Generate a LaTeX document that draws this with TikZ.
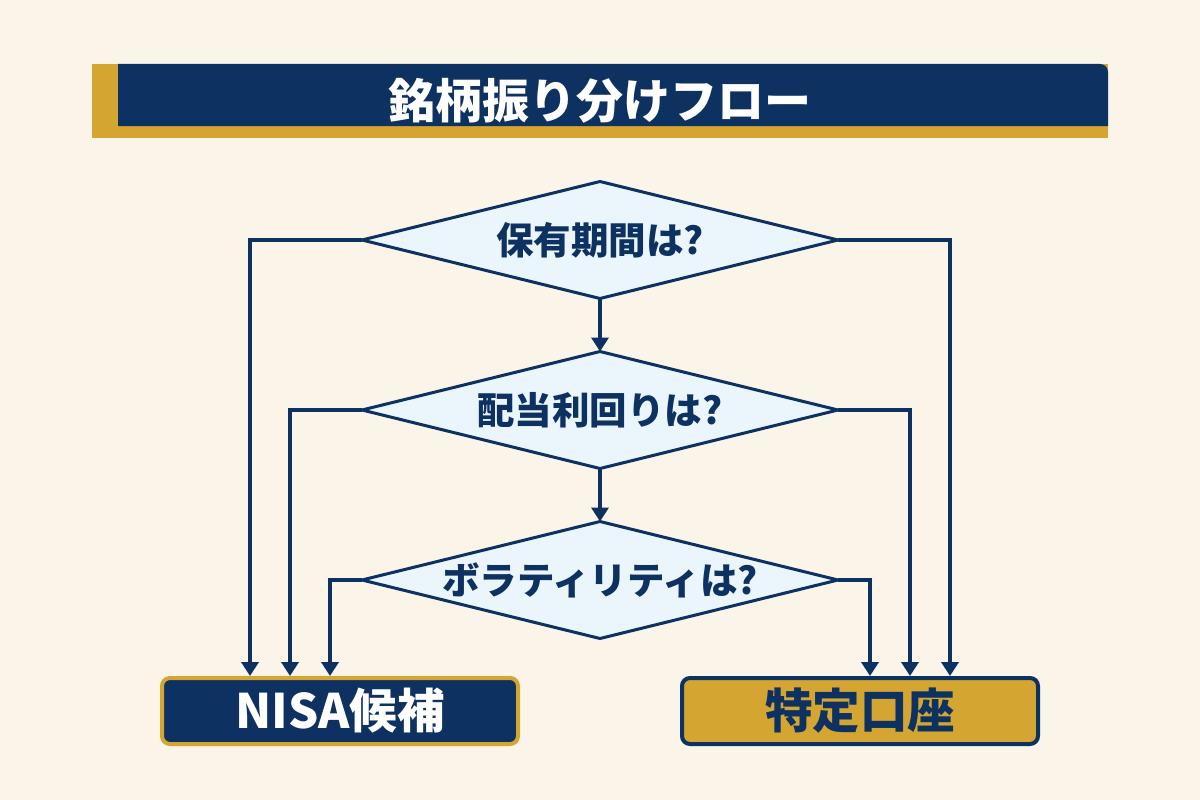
\documentclass[tikz,border=0pt]{standalone}
\usepackage{fontspec}
\setmainfont{Noto Sans CJK JP}
\usetikzlibrary{shapes.geometric,arrows.meta}
\definecolor{navy}{HTML}{0D3160}
\definecolor{gold}{HTML}{D4A531}
\definecolor{cream}{HTML}{FBF4E8}
\definecolor{dfill}{HTML}{EAF5FC}
\begin{document}
\begin{tikzpicture}[x=1pt,y=-1pt,
  decision/.style={diamond,draw=navy,fill=dfill,line width=3pt,aspect=4.07,
    minimum width=476pt,minimum height=117pt,inner sep=0pt,outer sep=0pt,
    text=navy,font=\fontsize{37.5}{40}\selectfont\bfseries},
  arr/.style={draw=navy,line width=4pt,-{Triangle[width=17pt,length=14pt]}},
  nisabox/.style={rectangle,rounded corners=8pt,draw=gold,fill=navy,line width=4pt,
    minimum width=356pt,minimum height=66pt,text=white,font=\fontsize{47.5}{50}\selectfont\bfseries},
  tokubox/.style={rectangle,rounded corners=8pt,draw=navy,fill=gold,line width=4pt,
    minimum width=356pt,minimum height=66pt,text=navy,font=\fontsize{47.5}{50}\selectfont\bfseries}]
\useasboundingbox (0,0) rectangle (1200,800);
\fill[cream] (0,0) rectangle (1200,800);
% title bar
\fill[gold] (92,64) rectangle (1108,138);
\fill[navy] (118,126) -- (118,64) [rounded corners=8pt] -- (1108,64) [sharp corners] -- (1108,126) -- cycle;
\node[text=white,font=\fontsize{47}{50}\selectfont\bfseries] (title) at (600,101) {銘柄振り分けフロー};
% decisions
\node[decision] (d1) at (600,240) {保有期間は?};
\node[decision] (d2) at (600,410) {配当利回りは?};
\node[decision] (d3) at (600,580) {ボラティリティは?};
% outcomes
\node[nisabox] (nisa) at (340,711) {NISA候補};
\node[tokubox] (toku) at (860,711) {特定口座};
% connectors
\draw[arr] (d1.south) -- (d2.north);
\draw[arr] (d2.south) -- (d3.north);
\draw[arr] (d1.west) -| ([xshift=-90pt]nisa.north);
\draw[arr] (d2.west) -| ([xshift=-50pt]nisa.north);
\draw[arr] (d3.west) -| ([xshift=-10pt]nisa.north);
\draw[arr] (d1.east) -| ([xshift=90pt]toku.north);
\draw[arr] (d2.east) -| ([xshift=50pt]toku.north);
\draw[arr] (d3.east) -| ([xshift=10pt]toku.north);
\end{tikzpicture}
\end{document}
